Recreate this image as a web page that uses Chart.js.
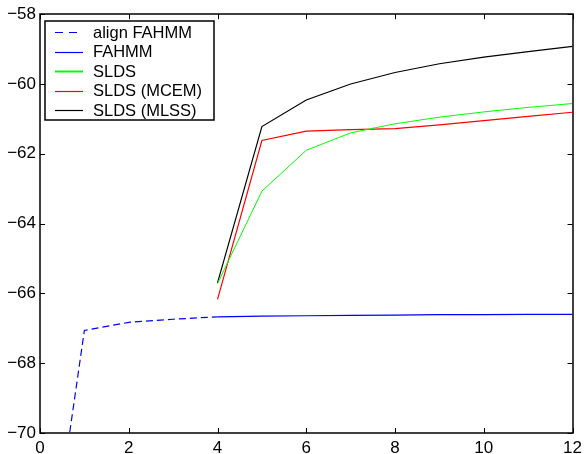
<!DOCTYPE html>
<html>
<head>
<meta charset="utf-8">
<script src="https://cdn.jsdelivr.net/npm/chart.js@4.4.1/dist/chart.umd.min.js"></script>
<style>
  html, body { margin: 0; padding: 0; background: #fff; }
  #wrap { width: 587px; height: 454px; }
</style>
</head>
<body>
<div id="wrap"><canvas id="chart"></canvas></div>
<script>
// values
const alignX = [0, 1, 2, 3, 4];
const alignFahmm = [-75.9, -67.06, -66.83, -66.74, -66.67];
const iterX = [4, 5, 6, 7, 8, 9, 10, 11, 12];
const fahmm = [-66.67, -66.65, -66.64, -66.63, -66.62, -66.61, -66.61, -66.60, -66.60];
const slds = [-65.72, -63.07, -61.90, -61.40, -61.14, -60.95, -60.80, -60.67, -60.56];
const sldsMcem = [-66.17, -61.62, -61.35, -61.31, -61.28, -61.17, -61.05, -60.93, -60.81];
const sldsMlss = [-65.70, -61.22, -60.46, -60.00, -59.67, -59.42, -59.23, -59.07, -58.92];
const xTicks = [0, 2, 4, 6, 8, 10, 12];
const yTicks = [-70, -68, -66, -64, -62, -60, -58];

const labels = ['align FAHMM', 'FAHMM', 'SLDS', 'SLDS (MCEM)', 'SLDS (MLSS)'];
const colors = ['#0000ff', '#0000ff', '#00ff00', '#ff0000', '#000000'];

const pts = (xs, ys) => xs.map((x, i) => ({ x: x, y: ys[i] }));

const FONT = '"Liberation Sans", Arial, Helvetica, sans-serif';
const fmt = v => String(v).replace('-', '\u2212');

// axes box, inward ticks and boxed legend, matlab style
const frame = {
  id: 'frame',
  afterDatasetsDraw(chart) {
    const { ctx, chartArea: a, scales } = chart;
    ctx.save();
    ctx.strokeStyle = '#000';
    ctx.lineWidth = 1;
    ctx.beginPath();
    xTicks.forEach(t => {
      const px = Math.round(scales.x.getPixelForValue(t)) + 0.5;
      ctx.moveTo(px, a.bottom); ctx.lineTo(px, a.bottom - 5);
      ctx.moveTo(px, a.top); ctx.lineTo(px, a.top + 5);
    });
    yTicks.forEach(t => {
      const py = Math.round(scales.y.getPixelForValue(t)) + 0.5;
      ctx.moveTo(a.left, py); ctx.lineTo(a.left + 5, py);
      ctx.moveTo(a.right, py); ctx.lineTo(a.right - 5, py);
    });
    ctx.stroke();
    ctx.lineWidth = 1.5;
    ctx.strokeRect(Math.round(a.left), Math.round(a.top),
      Math.round(a.right - a.left), Math.round(a.bottom - a.top));

    // legend
    const lx = Math.round(a.left) + 5, ly = Math.round(a.top) + 7;
    const w = 169, h = 99;
    ctx.fillStyle = '#fff';
    ctx.fillRect(lx, ly, w, h);
    ctx.strokeRect(lx, ly, w, h);
    ctx.font = '16.5px ' + FONT;
    ctx.textBaseline = 'middle';
    labels.forEach((lab, i) => {
      const cy = ly + 11 + i * 19.6;
      ctx.strokeStyle = colors[i];
      ctx.lineWidth = i === 2 ? 2 : 1.2;
      ctx.setLineDash(i === 0 ? [8, 6] : []);
      ctx.beginPath();
      ctx.moveTo(lx + 10, Math.round(cy) + 0.5);
      ctx.lineTo(lx + 38, Math.round(cy) + 0.5);
      ctx.stroke();
      ctx.fillStyle = '#000';
      ctx.fillText(lab, lx + 48, cy + 1);
    });
    ctx.setLineDash([]);
    ctx.restore();
  }
};

const series = [alignFahmm, fahmm, slds, sldsMcem, sldsMlss];
const datasets = series.map((ys, i) => ({
  label: labels[i],
  data: pts(i === 0 ? alignX : iterX, ys),
  borderColor: colors[i],
  borderWidth: i === 2 ? 1 : 1.2,
  borderDash: i === 0 ? [7, 4] : [],
  pointRadius: 0,
  fill: false,
  tension: 0
}));

new Chart(document.getElementById('chart'), {
  type: 'line',
  data: { datasets: datasets },
  options: {
    responsive: true,
    maintainAspectRatio: false,
    animation: false,
    layout: { padding: { top: 9, right: 10, left: 0, bottom: 0 } },
    plugins: { legend: { display: false }, tooltip: { enabled: false } },
    scales: {
      x: {
        type: 'linear', min: 0, max: 12,
        afterBuildTicks: s => { s.ticks = xTicks.map(v => ({ value: v })); },
        afterFit: s => { s.height = 21; },
        grid: { display: false, drawTicks: false },
        border: { display: false },
        ticks: { color: '#000', font: { family: FONT, size: 17 }, padding: 5, maxRotation: 0,
          callback: v => fmt(v) }
      },
      y: {
        type: 'linear', min: -70, max: -58,
        afterBuildTicks: s => { s.ticks = yTicks.map(v => ({ value: v })); },
        afterFit: s => { s.width = 40; },
        grid: { display: false, drawTicks: false },
        border: { display: false },
        ticks: { color: '#000', font: { family: FONT, size: 17 }, padding: 4,
          callback: v => fmt(v) }
      }
    }
  },
  plugins: [frame]
});
</script>
</body>
</html>
